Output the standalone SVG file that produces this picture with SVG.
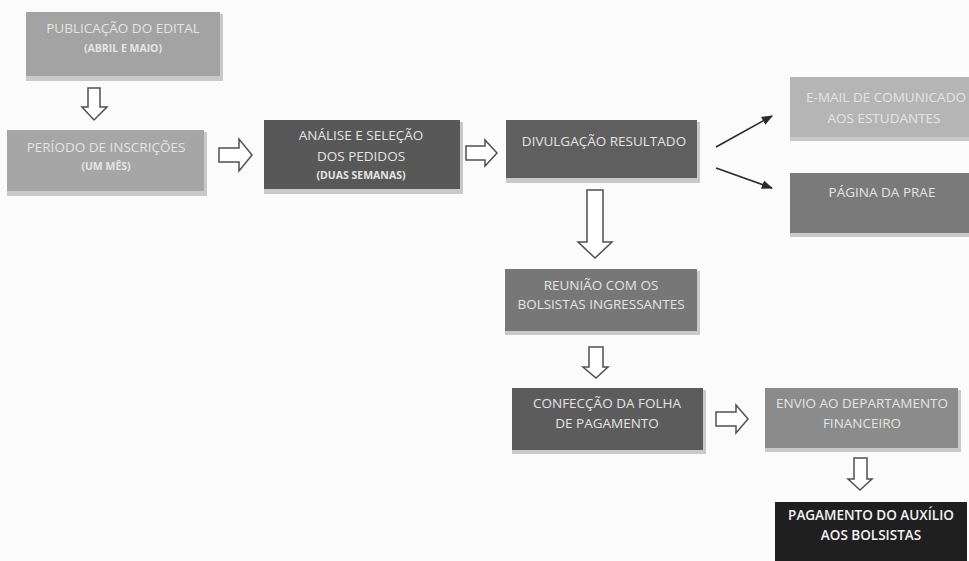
<svg xmlns="http://www.w3.org/2000/svg" width="969" height="561" viewBox="0 0 969 561">
<style>
.bg{fill:#fbfbfb}
.sh{fill:#c9c9c9}
.t{font-family:"Open Sans","Liberation Sans",sans-serif;font-size:13.5px;fill:#e4e4e4;text-anchor:middle}
.s{font-family:"Open Sans","Liberation Sans",sans-serif;font-size:10.5px;font-weight:bold;fill:#e4e4e4;text-anchor:middle}
.dk{fill:#f2f2f2;font-weight:600}
.ba{fill:#ffffff;stroke:#505050;stroke-width:1.5}
.ln{stroke:#2a2a2a;stroke-width:1.6;fill:none}
</style>
<defs>
<marker id="ah" viewBox="0 0 10 10" refX="9" refY="5" markerWidth="7" markerHeight="7" orient="auto">
<path d="M0,1 L10,5 L0,9 Z" fill="#2a2a2a"/>
</marker>
</defs>
<rect class="bg" x="0" y="0" width="969" height="561"/>

<g id="n1">
<rect class="sh" x="26" y="14" width="197" height="67"/>
<rect x="26" y="12" width="194" height="64" fill="#a3a3a3"/>
<text class="t" x="123" y="33">PUBLICAÇÃO DO EDITAL</text>
<text class="s" x="123" y="52">(ABRIL E MAIO)</text>
</g>

<g id="n2">
<rect class="sh" x="7" y="132" width="200" height="64"/>
<rect x="7" y="130" width="197" height="61" fill="#a6a6a6"/>
<text class="t" x="106" y="152">PERÍODO DE INSCRIÇÕES</text>
<text class="s" x="106" y="170">(UM MÊS)</text>
</g>

<g id="n3">
<rect class="sh" x="264" y="122" width="199" height="72"/>
<rect x="264" y="120" width="196" height="69" fill="#585858"/>
<text class="t" x="361" y="140">ANÁLISE E SELEÇÃO</text>
<text class="t" x="361" y="161">DOS PEDIDOS</text>
<text class="s" x="361" y="179">(DUAS SEMANAS)</text>
</g>

<g id="n4">
<rect class="sh" x="506" y="122" width="194" height="61"/>
<rect x="506" y="120" width="191" height="58" fill="#5f5f5f"/>
<text class="t" x="604" y="146">DIVULGAÇÃO RESULTADO</text>
</g>

<g id="n5">
<rect class="sh" x="790" y="79" width="179" height="62"/>
<rect x="790" y="77" width="179" height="60" fill="#b5b5b5"/>
<text class="t" x="886" y="102">E-MAIL DE COMUNICADO</text>
<text class="t" x="884" y="123">AOS ESTUDANTES</text>
</g>

<g id="n6">
<rect class="sh" x="790" y="175" width="179" height="62"/>
<rect x="790" y="173" width="179" height="60" fill="#7a7a7a"/>
<text class="t" x="882" y="197">PÁGINA DA PRAE</text>
</g>

<g id="n7">
<rect class="sh" x="505" y="271" width="195" height="64"/>
<rect x="505" y="269" width="192" height="62" fill="#777777"/>
<text class="t" x="601" y="290">REUNIÃO COM OS</text>
<text class="t" x="601" y="309">BOLSISTAS INGRESSANTES</text>
</g>

<g id="n8">
<rect class="sh" x="512" y="390" width="194" height="64"/>
<rect x="512" y="388" width="191" height="62" fill="#5c5c5c"/>
<text class="t" x="607" y="408">CONFECÇÃO DA FOLHA</text>
<text class="t" x="607" y="428">DE PAGAMENTO</text>
</g>

<g id="n9">
<rect class="sh" x="765" y="390" width="196" height="62"/>
<rect x="765" y="388" width="193" height="60" fill="#8b8b8b"/>
<text class="t" x="862" y="408">ENVIO AO DEPARTAMENTO</text>
<text class="t" x="862" y="428">FINANCEIRO</text>
</g>

<g id="n10">
<rect x="775" y="502" width="192" height="59" fill="#1f1f1f"/>
<text class="t dk" x="871" y="520">PAGAMENTO DO AUXÍLIO</text>
<text class="t dk" x="871" y="540">AOS BOLSISTAS</text>
</g>

<g id="connectors">
<path class="ba" d="M88,88 H100 V107 H107 L94,120 L82,107 H88 Z"/>
<path class="ba" d="M219,148 H239 V139 L252,155 L239,171 V162 H219 Z"/>
<path class="ba" d="M466,146 H485 V140 L497,153 L485,166 V160 H466 Z"/>
<path class="ba" d="M587,190 H603 V242 H612 L595,258 L578,242 H587 Z"/>
<path class="ba" d="M589,347 H603 V367 H608 L596,378 L583,367 H589 Z"/>
<path class="ba" d="M716,412 H736 V405 L748,419 L736,433 V426 H716 Z"/>
<path class="ba" d="M854,458 H867 V479 H872 L860,490 L848,479 H854 Z"/>
<line class="ln" x1="716" y1="147" x2="772" y2="116" marker-end="url(#ah)"/>
<line class="ln" x1="716" y1="168" x2="772" y2="188" marker-end="url(#ah)"/>
</g>
</svg>
